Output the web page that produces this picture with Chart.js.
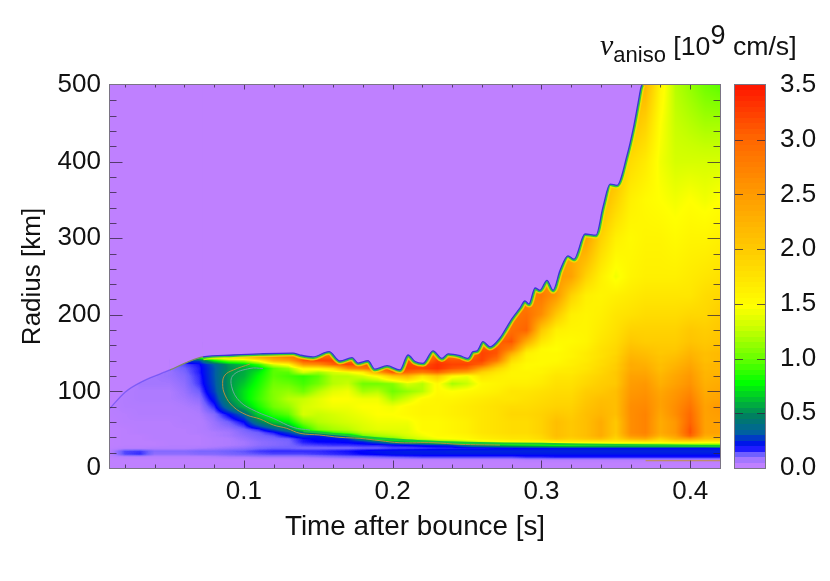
<!DOCTYPE html>
<html>
<head>
<meta charset="utf-8">
<style>
  html,body { margin:0; padding:0; background:#fff; width:830px; height:581px; overflow:hidden; }
  #main { position:absolute; left:0; top:0; }
  #bar { position:absolute; left:730px; top:0; }
  #barTitle { position:absolute; left:600px; top:28px; white-space:nowrap; color:#111;
    font:26.7px "Liberation Sans",sans-serif; line-height:34px; }
  #barTitle i { font-family:"Liberation Serif",serif; font-size:30px; }
  #barTitle sub { font-size:22px; vertical-align:-7px; line-height:0; }
  #barTitle sup { font-size:27px; vertical-align:11px; line-height:0; }
</style>
</head>
<body>
<canvas id="main" width="830" height="581"></canvas>
<canvas id="bar" width="100" height="581"></canvas>
<div id="barTitle"><i>v</i><sub>aniso</sub> [10<sup>9</sup> cm/s]</div>
<script src="https://cdn.jsdelivr.net/npm/chart.js@4"></script>
<script>
/* ---------- data ---------- */
const xTicks = [0.1, 0.2, 0.3, 0.4];
const yTicks = [0, 100, 200, 300, 400, 500];
const barTicks = [0, 0.5, 1, 1.5, 2, 2.5, 3, 3.5];

const times = [.01,.02,.03,.04,.05,.06,.07,.08,.09,.10,.11,.12,.13,.14,.15,.16,.17,.18,.19,.20,.21,
  .22,.23,.24,.25,.26,.27,.28,.29,.30,.31,.32,.33,.34,.35,.36,.37,.38,.39,.40,.41,.42];
const radii = [0,6,10,14,18,22,26,30,34,38,42,46,50, 60,70,80,90,100,110,120,
  125,130,135,140,145,150,155, 165,180,200,225,250, 300,350,400,450,500];

// one line per entry of times, one value per entry of radii (10^9 cm/s)
const speed = [
[0,0,0,.01,.02,.02,.01,.005,.005,.005,.005,.005,.005, .01,.015,.015,.02,0,0,0, 0,0,0,0,0,0,0, 0,0,0,0,0, 0,0,0,0,0],
[0,0,0,.02,.12,.12,.02,.01,.01,.01,.01,.01,.01, .02,.02,.03,.03,.03,0,0, 0,0,0,0,0,0,0, 0,0,0,0,0, 0,0,0,0,0],
[0,0,0,.02,.14,.13,.02,.01,.01,.01,.01,.02,.02, .02,.03,.03,.04,.04,.05,.05, 0,0,0,0,0,0,0, 0,0,0,0,0, 0,0,0,0,0],
[0,0,0,.02,.07,.08,.03,.01,.01,.02,.02,.02,.02, .02,.03,.03,.04,.04,.05,.05, .05,.06,0,0,0,0,0, 0,0,0,0,0, 0,0,0,0,0],
[0,0,0,.02,.07,.08,.03,.02,.02,.02,.02,.02,.02, .02,.03,.03,.04,.04,.05,.06, .06,.07,.09,.12,0,0,0, 0,0,0,0,0, 0,0,0,0,0],
[0,0,0,.02,.07,.08,.03,.02,.02,.02,.02,.02,.02, .03,.03,.04,.05,.06,.07,.08, .09,.1,.12,.25,.7,1,1, 0,0,0,0,0, 0,0,0,0,0],
[0,0,0,.02,.08,.09,.04,.02,.02,.02,.02,.03,.03, .03,.04,.05,.07,.1,.13,.14, .15,.15,.16,.25,.9,1.2,1.2, 0,0,0,0,0, 0,0,0,0,0],
[0,0,0,.03,.08,.09,.05,.03,.03,.03,.04,.04,.05, .06,.08,.14,.2,.25,.27,.28, .28,.28,.3,.7,1.5,1.8,1.8, 0,0,0,0,0, 0,0,0,0,0],
[0,0,0,.04,.09,.1,.06,.04,.04,.04,.05,.05,.06, .1,.18,.38,.48,.5,.5,.5, .5,.48,.5,1,2,2.2,2.2, 0,0,0,0,0, 0,0,0,0,0],
[0,0,0,.04,.1,.11,.07,.05,.05,.06,.07,.08,.09, .17,.32,.58,.68,.68,.62,.56, .55,.55,.6,1.1,2.2,2.4,2.4, 0,0,0,0,0, 0,0,0,0,0],
[0,0,0,.05,.11,.13,.09,.07,.07,.08,.09,.1,.14, .42,.66,.8,.88,.85,.8,.75, .7,.62,.85,1.5,2.5,2.5,2.5, 0,0,0,0,0, 0,0,0,0,0],
[0,0,0,.05,.12,.14,.1,.08,.08,.09,.11,.15,.26, .62,.85,1,1.05,1.05,1,.95, .95,.95,1.3,2.2,2.6,2.7,2.7, 0,0,0,0,0, 0,0,0,0,0],
[0,0,0,.05,.12,.14,.1,.09,.09,.1,.17,.25,.4, .72,.95,1.1,1.2,1.1,.98,.9, .95,1.1,1.5,2.4,2.8,2.9,2.9, 0,0,0,0,0, 0,0,0,0,0],
[0,0,.01,.05,.12,.14,.09,.12,.15,.16,.25,.4,.75, 1.05,1.3,1.3,1.25,1,.9,.85, 1.3,1.55,2.5,3.1,2.9,3,3, 0,0,0,0,0, 0,0,0,0,0],
[0,0,.01,.06,.13,.14,.09,.13,.17,.18,.2,.55,1.05, 1.2,1.25,1.35,1.35,1.2,1,.95, 1.15,1.6,2.6,3.2,3,3,3, 0,0,0,0,0, 0,0,0,0,0],
[0,0,.01,.07,.14,.15,.09,.14,.17,.18,.28,.85,1.15, 1.25,1.3,1.4,1.45,1.35,1.2,1.2, 1.3,1.8,3,3.2,3,2.8,2.8, 0,0,0,0,0, 0,0,0,0,0],
[0,0,.01,.08,.15,.16,.09,.14,.18,.2,.4,1,1.2, 1.3,1.35,1.4,1.45,1.4,1.25,1.2, 1.4,2.6,3.2,3,3,3,3, 0,0,0,0,0, 0,0,0,0,0],
[0,0,.01,.08,.17,.18,.1,.15,.2,.45,1,1.2,1.3, 1.35,1.4,1.45,1.4,1.15,1,1.3, 1.6,2.8,3.1,3,2.8,2.8,2.8, 0,0,0,0,0, 0,0,0,0,0],
[0,0,.01,.09,.18,.2,.1,.15,.3,.85,1.15,1.25,1.35, 1.4,1.45,1.45,1.4,1.2,1,1.5, 2.4,3.1,3,2.8,2.8,2.8,2.8, 0,0,0,0,0, 0,0,0,0,0],
[0,0,.01,.1,.2,.2,.12,.17,.45,1,1.2,1.3,1.35, 1.4,1.45,1.4,1.15,1,1.05,2, 3.1,3.2,3,2.8,2.8,2.8,2.8, 0,0,0,0,0, 0,0,0,0,0],
[0,0,.01,.11,.2,.21,.12,.18,.55,1.2,1.3,1.35,1.35, 1.4,1.5,1.5,1.3,1.1,1.3,2.2, 3,3.2,3.2,3.1,2.8,2.8,2.8, 0,0,0,0,0, 0,0,0,0,0],
[0,0,.01,.12,.2,.21,.13,.2,.7,1.3,1.4,1.45,1.5, 1.5,1.55,1.55,1.5,1.2,1.2,1.7, 2.8,3.2,3.1,2.8,2.8,2.8,2.8, 0,0,0,0,0, 0,0,0,0,0],
[0,0,.01,.12,.2,.21,.14,.22,.9,1.4,1.5,1.5,1.5, 1.5,1.55,1.55,1.55,1.5,1.5,2, 3,3.3,3.3,3.2,3,2.8,2.8, 0,0,0,0,0, 0,0,0,0,0],
[0,0,.01,.12,.2,.22,.14,.25,1,1.45,1.5,1.55,1.55, 1.55,1.6,1.6,1.55,1.45,1.15,1.5, 2.6,3.1,3.2,3.1,2.9,2.8,2.8, 0,0,0,0,0, 0,0,0,0,0],
[0,0,.01,.12,.2,.22,.15,.4,1.2,1.5,1.55,1.6,1.6, 1.6,1.65,1.65,1.6,1.5,1.25,1.4, 2.4,3,3.2,3.1,2.9,2.8,2.8, 0,0,0,0,0, 0,0,0,0,0],
[0,0,.01,.12,.2,.22,.15,.5,1.3,1.6,1.65,1.7,1.7, 1.7,1.7,1.7,1.65,1.55,1.5,1.7, 1.9,2.4,3,3.2,3.2,3.2,3.1, 2.5,2.5,0,0,0, 0,0,0,0,0],
[0,0,.01,.12,.2,.22,.16,.6,1.4,1.65,1.7,1.75,1.75, 1.75,1.75,1.75,1.7,1.6,1.55,1.6, 1.7,1.9,2.3,2.8,3,3.1,3.1, 3,2.5,2.5,0,0, 0,0,0,0,0],
[0,0,.01,.12,.2,.22,.16,.7,1.45,1.7,1.75,1.8,1.8, 1.8,1.85,1.8,1.7,1.7,1.6,1.55, 1.55,1.6,1.65,1.8,2,2.3,2.7, 3.1,2.9,2.8,2.8,0, 0,0,0,0,0],
[0,0,.02,.14,.2,.22,.17,.75,1.5,1.7,1.75,1.8,1.8, 1.8,1.85,1.8,1.75,1.7,1.6,1.55, 1.55,1.5,1.5,1.55,1.55,1.6,1.8, 2.3,3,2.9,2.7,2.7, 0,0,0,0,0],
[0,0,.02,.14,.2,.22,.17,.8,1.5,1.8,1.85,1.9,1.9, 1.9,1.9,1.85,1.8,1.75,1.65,1.6, 1.55,1.55,1.5,1.5,1.5,1.5,1.5, 1.7,2,2.6,2.8,2.6, 2.6,0,0,0,0],
[0,0,.02,.15,.2,.22,.18,.85,1.6,2,2.1,2.1,2.1, 2.1,2,1.9,1.85,1.8,1.75,1.7, 1.65,1.6,1.55,1.5,1.5,1.5,1.45, 1.5,1.6,2,2.5,2.5, 2.5,0,0,0,0],
[0,0,.02,.15,.2,.22,.18,.9,1.6,1.9,2,2,2, 2,1.95,1.9,1.85,1.8,1.75,1.7, 1.65,1.65,1.6,1.6,1.55,1.55,1.55, 1.5,1.55,1.6,1.9,2.4, 2.3,2.3,0,0,0],
[0,0,.02,.15,.2,.22,.18,.9,1.6,2,2.1,2.1,2.1, 2.1,2.1,2.05,2,1.95,1.85,1.8, 1.75,1.7,1.7,1.65,1.65,1.65,1.6, 1.55,1.55,1.55,1.6,1.9, 2.4,2.4,0,0,0],
[0,0,.02,.15,.2,.22,.18,.9,1.6,2.1,2.3,2.3,2.3, 2.3,2.2,2.15,2.1,2,1.95,1.9, 1.85,1.85,1.8,1.8,1.75,1.75,1.75, 1.7,1.65,1.6,1.55,1.6, 1.9,2.2,2.2,0,0],
[0,0,.02,.15,.2,.22,.18,.9,1.6,1.85,1.95,2,2, 2,2.1,2.1,2.1,2.1,2,2, 2,1.95,1.95,1.9,1.9,1.85,1.85, 1.8,1.75,1.7,1.6,1.4, 1.6,1.9,2.2,2.2,0],
[0,0,.02,.15,.2,.22,.18,.9,1.6,2.2,2.5,2.6,2.6, 2.6,2.6,2.6,2.55,2.5,2.45,2.4, 2.35,2.3,2.3,2.25,2.2,2.15,2.1, 2,1.9,1.75,1.65,1.55, 1.5,1.6,1.8,2.1,2.2],
[0,0,.02,.15,.2,.22,.18,.9,1.65,2.3,2.6,2.7,2.7, 2.7,2.7,2.65,2.6,2.55,2.5,2.4, 2.35,2.3,2.25,2.2,2.15,2.1,2.05, 1.95,1.9,1.8,1.7,1.6, 1.55,1.5,1.65,1.9,2.2],
[0,0,.02,.15,.2,.22,.18,.9,1.6,1.9,2.2,2.3,2.3, 2.3,2.35,2.4,2.4,2.35,2.25,2.2, 2.15,2.1,2.1,2.05,2.05,2,2, 1.95,1.9,1.8,1.7,1.6, 1.55,1.45,1.4,1.45,1.55],
[0,0,.02,.15,.2,.22,.18,.9,1.7,2.2,2.4,2.5,2.5, 2.5,2.6,2.6,2.55,2.5,2.4,2.35, 2.3,2.25,2.2,2.15,2.1,2.05,2, 1.95,1.9,1.8,1.7,1.6, 1.5,1.4,1.3,1.25,1.2],
[0,0,.02,.15,.2,.22,.18,.9,1.7,2.4,3,3.1,3.1, 3,2.95,2.85,2.75,2.65,2.55,2.5, 2.45,2.4,2.35,2.3,2.25,2.2,2.15, 2.05,2,1.85,1.7,1.65, 1.55,1.45,1.3,1.2,1.1],
[0,0,.02,.15,.2,.22,.18,.9,1.6,2.1,2.3,2.4,2.4, 2.4,2.4,2.4,2.35,2.3,2.25,2.2, 2.2,2.15,2.15,2.1,2.1,2.1,2.05, 2,1.95,1.85,1.8,1.7, 1.55,1.4,1.3,1.15,1],
[0,0,.02,.15,.2,.22,.18,.9,1.6,2.1,2.3,2.4,2.4, 2.4,2.45,2.5,2.4,2.35,2.3,2.25, 2.2,2.2,2.2,2.15,2.15,2.15,2.1, 2.05,2,1.95,1.85,1.75, 1.6,1.45,1.3,1.15,.95]
];

// outer edge of the hot region
const shockTimes = [.01,.0201,.0322,.0503,.0618,.0725,.0927,.1108,.133,.1377,.1464,.1572,.1646,.1727,.1767,.1834,.1881,.1962,.2049,.2103,.215,.2204,.2271,.2331,.2372,.2452,.2506,.254,.2567,.2607,.2654,.2721,.2755,.2802,.2856,.2889,.2916,.2957,.299,.3037,.3078,.3125,.3178,.3219,.3293,.3367,.3414,.3461,.3508,.3575,.3615,.3649,.3669,.3676];
const shockRadii = [78,99,113.5,128,138,145,147.5,149,150,147.5,145,152,139.7,144,137,140,129,133.6,128,147.5,139,136.6,153,143,149,146.6,143,152,152.8,165,158,169.7,180,195,209,218,214,235,232,245,232,258,277,272.6,305.5,304,341,370.6,369,408,441,476,497,500];

// inner edge of the hot region
const edgeTimes = [.14,.16,.18,.2,.22,.25,.3,.35,.42];
const edgeRadii = [48,44.5,40.5,37.5,35,33,31.5,30,28.5];

// thin contours
const outerContourTimes = [.1041,.0929,.0873,.0857,.0873,.0929,.1019,.1108,.1198,.1288,.1377,.1511,.1646,.178,.1915,.2049,.2271,.2452,.2721];
const outerContourRadii = [135.8,127.9,121.4,110.5,95.3,80,69.2,64,56.1,51.8,45.3,43,40,38.7,35.7,33,33,30.9,30];
const innerContourTimes = [.1128,.1041,.0929,.0918,.0974,.1086,.1198,.1332,.1444];
const innerContourRadii = [130,130,121.4,106,86.6,73.5,64.8,53,49.6];
const floorContourTimes = [.37,.42];
const floorContourRadii = [9.5,9.5];

// colour table of the bar
const levelValues = [0,.04,.1,.17,.3,.45,.6,.75,1,1.25,1.45,2,2.5,3,3.5];
const levelColors = ['#bf80ff','#ae7bff','#7060ff','#0000ff','#0060a0','#008060','#00c030','#00ff00','#70ff00','#c8ff00','#ffff00','#ffc800','#ff9800','#ff6400','#ff1000'];

/* ---------- helpers ---------- */
const FONT = "'Liberation Sans',Arial,sans-serif";
const FRAME = '#7a7484';
const TICK = 'rgba(50,35,60,0.75)';
const LUT_STEP = 400;
const BAR_LEVELS = 70;

function pts(xs, ys) { return xs.map((x, i) => ({ x, y: ys[i] })); }

function rgb(hex) {
  return [1, 3, 5].map(i => parseInt(hex.substr(i, 2), 16));
}

function colorOf(v) {
  let i = 0;
  while (i < levelValues.length - 2 && v > levelValues[i + 1]) i++;
  const f = Math.min(1, Math.max(0, (v - levelValues[i]) / (levelValues[i + 1] - levelValues[i])));
  const a = rgb(levelColors[i]), b = rgb(levelColors[i + 1]);
  return [0, 1, 2].map(k => Math.round(a[k] + (b[k] - a[k]) * f));
}

function bracket(list, v) {
  let i = 0;
  while (i < list.length - 2 && v > list[i + 1]) i++;
  return [i, Math.min(1, Math.max(0, (v - list[i]) / (list[i + 1] - list[i])))];
}

const lut = [];
for (let i = 0; i <= 3.5 * LUT_STEP; i++) lut.push(colorOf(i / LUT_STEP));

/* ---------- heat map, drawn through the chart scales ---------- */
let heatImage = null;
const heatPlugin = {
  id: 'heat',
  beforeDatasetsDraw(chart) {
    const { ctx, chartArea: a, scales: { x, y } } = chart;
    const w = Math.round(a.right - a.left), h = Math.round(a.bottom - a.top);
    if (!heatImage) {
      heatImage = document.createElement('canvas');
      heatImage.width = w; heatImage.height = h;
      const g = heatImage.getContext('2d');
      const img = g.createImageData(w, h);
      const cols = [];
      for (let px = 0; px < w; px++) cols.push(bracket(times, x.getValueForPixel(a.left + px + 0.5)));
      for (let py = 0; py < h; py++) {
        const [j, fy] = bracket(radii, y.getValueForPixel(a.top + py + 0.5));
        for (let px = 0; px < w; px++) {
          const [i, fx] = cols[px];
          const v = (speed[i][j] * (1 - fy) + speed[i][j + 1] * fy) * (1 - fx)
                  + (speed[i + 1][j] * (1 - fy) + speed[i + 1][j + 1] * fy) * fx;
          const c = lut[Math.round(Math.min(3.5, v) * LUT_STEP)];
          const o = (py * w + px) * 4;
          img.data[o] = c[0]; img.data[o + 1] = c[1]; img.data[o + 2] = c[2]; img.data[o + 3] = 255;
        }
      }
      g.putImageData(img, 0, 0);
    }
    ctx.drawImage(heatImage, a.left, a.top);
  }
};

/* ---------- frame with inward ticks ---------- */
function drawLine(ctx, x1, y1, x2, y2) {
  ctx.beginPath(); ctx.moveTo(x1, y1); ctx.lineTo(x2, y2); ctx.stroke();
}

const framePlugin = {
  id: 'frame',
  afterDatasetsDraw(chart) {
    const { ctx, chartArea: a, scales: { x, y } } = chart;
    const l = a.left - 0.5, r = a.right + 0.5, t = a.top - 0.5, b = a.bottom + 0.5;
    ctx.save();
    ctx.lineWidth = 1;
    ctx.strokeStyle = TICK;
    for (let k = 1; k <= 21; k++) {
      const p = Math.round(x.getPixelForValue(k * 0.02)) + 0.5, major = k % 5 === 0;
      drawLine(ctx, p, b, p, b - (major ? 8 : 4));
      drawLine(ctx, p, t, p, t + (major ? 5 : 3));
    }
    for (let k = 1; k < 25; k++) {
      const p = Math.round(y.getPixelForValue(k * 20)) + 0.5, major = k % 5 === 0;
      drawLine(ctx, l, p, l + (major ? 13 : 7), p);
      drawLine(ctx, r, p, r - (major ? 13 : 7), p);
    }
    ctx.strokeStyle = FRAME;
    ctx.strokeRect(l, t, r - l, b - t);
    ctx.restore();
  }
};

/* ---------- main chart ---------- */
const afterFront = (from, color) => c => c.p0.parsed.x < from ? 'rgba(0,0,0,0)' : color;
const smooth = { cubicInterpolationMode: 'monotone' };

new Chart(document.getElementById('main'), {
  type: 'line',
  data: {
    datasets: [
      { label: 'Shock', data: pts(shockTimes, shockRadii), order: 1, fill: 'end', ...smooth,
        backgroundColor: '#bf80ff', borderColor: '#3a34d8', borderWidth: 1.3,
        segment: { borderColor: c => c.p0.parsed.x < 0.05 ? 'rgba(60,50,235,0.45)' : (c.p0.parsed.x < 0.0725 ? '#7f8a66' : '#3a34d8') } },
      { label: 'Front green', data: pts(shockTimes, shockRadii), order: 2, ...smooth, borderColor: 'rgba(20,200,70,0.85)', borderWidth: 4,
        segment: { borderColor: afterFront(0.0725, 'rgba(20,200,70,0.85)') } },
      { label: 'Front yellow', data: pts(shockTimes, shockRadii), order: 3, ...smooth, borderColor: 'rgba(232,240,0,0.7)', borderWidth: 7,
        segment: { borderColor: afterFront(0.0725, 'rgba(232,240,0,0.7)') } },
      { label: 'Outer contour', data: pts(outerContourTimes, outerContourRadii), order: 0, tension: 0.4, borderColor: '#b4903c', borderWidth: 1 },
      { label: 'Inner contour', data: pts(innerContourTimes, innerContourRadii), order: 0, tension: 0.4, borderColor: '#6aa89c', borderWidth: 1 },
      { label: 'Floor contour', data: pts(floorContourTimes, floorContourRadii), order: 0, borderColor: '#c09040', borderWidth: 1 },
      { label: 'Inner edge', data: pts(edgeTimes, edgeRadii), order: 4, tension: 0.4, borderColor: '#18c838', borderWidth: 2 }
    ]
  },
  options: {
    responsive: false,
    animation: false,
    events: [],
    elements: { point: { radius: 0 }, line: { tension: 0, fill: false } },
    layout: { padding: { top: 85, left: 0, right: 110, bottom: 0 } },
    plugins: { legend: { display: false }, tooltip: { enabled: false } },
    scales: {
      x: {
        type: 'linear', min: 0.01, max: 0.42,
        afterBuildTicks: s => { s.ticks = xTicks.map(value => ({ value })); },
        afterFit: s => { s.height = 113; },
        grid: { display: false, drawTicks: false }, border: { display: false },
        ticks: { color: '#111', font: { family: FONT, size: 26 }, padding: 8, maxRotation: 0, callback: v => v.toFixed(1) },
        title: { display: true, text: 'Time after bounce [s]', color: '#111', font: { family: FONT, size: 27.8 }, padding: { top: 0, bottom: 37 } }
      },
      y: {
        type: 'linear', min: 0, max: 500,
        afterBuildTicks: s => { s.ticks = yTicks.map(value => ({ value })); },
        afterFit: s => { s.width = 110; },
        grid: { display: false, drawTicks: false }, border: { display: false },
        ticks: { color: '#111', font: { family: FONT, size: 26 }, padding: 9 },
        title: { display: true, text: 'Radius [km]', color: '#111', font: { family: FONT, size: 26 }, padding: { top: 17, bottom: 0 } }
      }
    }
  },
  plugins: [heatPlugin, framePlugin]
});

/* ---------- colour bar ---------- */
const barPlugin = {
  id: 'colorbar',
  beforeDatasetsDraw(chart) {
    const { ctx, chartArea: a, scales: { y } } = chart;
    for (let k = 0; k < BAR_LEVELS; k++) {
      const c = lut[Math.round(k * 3.5 / BAR_LEVELS * LUT_STEP)];
      const top = Math.round(y.getPixelForValue((k + 1) * 3.5 / BAR_LEVELS)), bot = Math.round(y.getPixelForValue(k * 3.5 / BAR_LEVELS));
      ctx.fillStyle = `rgb(${c[0]},${c[1]},${c[2]})`;
      ctx.fillRect(a.left, top, a.right - a.left, bot - top);
    }
  },
  afterDatasetsDraw(chart) {
    const { ctx, chartArea: a, scales: { y } } = chart;
    ctx.save();
    ctx.strokeStyle = TICK;
    ctx.lineWidth = 1;
    barTicks.slice(1, -1).forEach(v => {
      const p = Math.round(y.getPixelForValue(v)) + 0.5;
      drawLine(ctx, a.left, p, a.left + 8, p);
      drawLine(ctx, a.right, p, a.right - 8, p);
    });
    ctx.strokeStyle = FRAME;
    ctx.strokeRect(a.left - 0.5, a.top - 0.5, a.right - a.left + 1, a.bottom - a.top + 1);
    ctx.restore();
  }
};

new Chart(document.getElementById('bar'), {
  type: 'bar',
  data: { labels: [''], datasets: [{ data: [0], backgroundColor: 'rgba(0,0,0,0)' }] },
  options: {
    responsive: false,
    animation: false,
    events: [],
    layout: { padding: { top: 85, left: 5, right: 0, bottom: 113 } },
    plugins: { legend: { display: false }, tooltip: { enabled: false } },
    scales: {
      x: { display: false },
      y: {
        position: 'right', min: 0, max: 3.5,
        afterBuildTicks: s => { s.ticks = barTicks.map(value => ({ value })); },
        afterFit: s => { s.width = 65; },
        grid: { display: false }, border: { display: false },
        ticks: { color: '#111', font: { family: FONT, size: 26 }, padding: 7, callback: v => v.toFixed(1) }
      }
    }
  },
  plugins: [barPlugin]
});
</script>
</body>
</html>
